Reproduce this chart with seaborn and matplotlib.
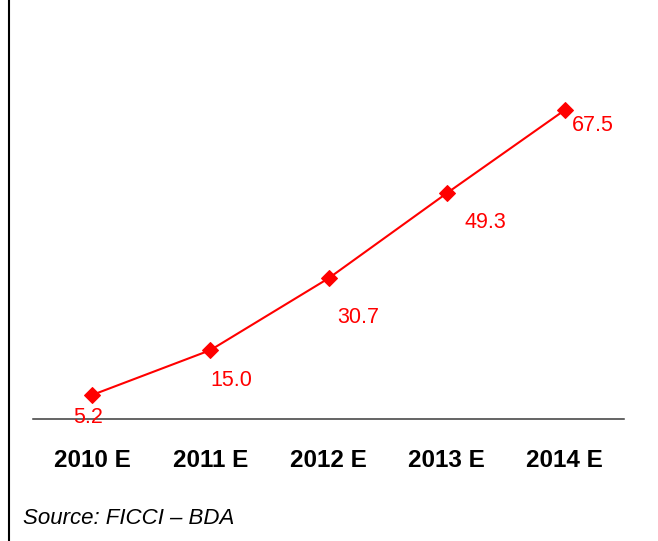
import matplotlib
matplotlib.use("Agg")
import matplotlib.pyplot as plt
from matplotlib.lines import Line2D
import seaborn as sns
import pandas as pd

# Data
years = ["2010 E", "2011 E", "2012 E", "2013 E", "2014 E"]
values = [5.2, 15.0, 30.7, 49.3, 67.5]
source_note = "Source: FICCI \u2013 BDA"

# Label offsets (points) for each value annotation
label_offsets = [(-3, -16), (15, -22), (21.5, -28.5), (28, -21), (20, -11.5)]

sns.set_theme(style="white")
plt.rcParams["font.family"] = ["Liberation Sans", "DejaVu Sans"]

df = pd.DataFrame({"year": years, "value": values})

fig = plt.figure(figsize=(6.58, 5.41), dpi=100)
ax = fig.add_axes([33 / 658, 1 - 418.8 / 541, 591 / 658, 418.8 / 541])

sns.lineplot(data=df, x="year", y="value", ax=ax, color="#ff0000",
             linewidth=1.5, marker="D", markersize=8.5,
             markeredgecolor="#ff0000", markerfacecolor="#ff0000")

for i, (v, off) in enumerate(zip(values, label_offsets)):
    ax.annotate(f"{v:.1f}", xy=(i, v), xytext=off, textcoords="offset points",
                ha="center", va="center", color="#ff0000", fontsize=15.5)

ax.set_xlim(-0.5, 4.5)
ax.set_ylim(0, 418.8 / 4.575)
ax.set_xlabel("")
ax.set_ylabel("")
ax.set_yticks([])
ax.tick_params(axis="x", length=0, pad=22, labelsize=17.5)
for lbl in ax.get_xticklabels():
    lbl.set_fontweight("bold")
    lbl.set_color("black")

for side in ["top", "right", "left"]:
    ax.spines[side].set_visible(False)
ax.spines["bottom"].set_color("#3a3a3a")
ax.spines["bottom"].set_linewidth(1.1)
ax.patch.set_alpha(0)

# Left border rule of the panel
fig.add_artist(Line2D([8.5 / 658, 8.5 / 658], [0, 1], transform=fig.transFigure,
                      color="black", linewidth=1.5))

fig.text(23 / 658, 1 - 519 / 541, source_note, ha="left", va="center",
         fontsize=16, style="italic", color="black")

fig.savefig("out.png", dpi=100)
